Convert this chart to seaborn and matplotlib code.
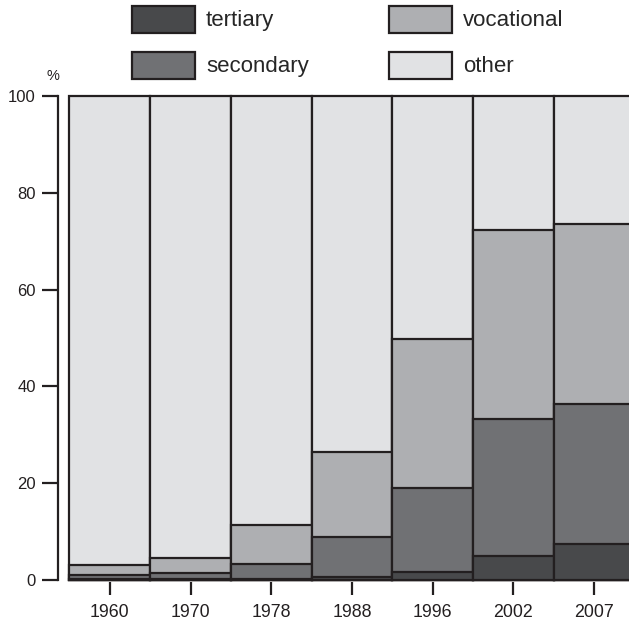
import matplotlib
matplotlib.use("Agg")
import matplotlib.pyplot as plt
import seaborn as sns
import pandas as pd
from matplotlib.patches import Patch

years = ["1960", "1970", "1978", "1988", "1996", "2002", "2007"]
tertiary = [0.3, 0.2, 0.1, 0.7, 1.7, 5.0, 7.4]
secondary = [0.7, 1.2, 3.1, 8.2, 17.4, 28.3, 29.0]
vocational = [2.0, 3.2, 8.1, 17.6, 30.7, 39.0, 37.2]

levels = ["tertiary", "secondary", "vocational", "other"]
colors = {"tertiary": "#48494b", "secondary": "#707174",
          "vocational": "#aeafb2", "other": "#e1e2e4"}
edge = "#231f20"

df = pd.DataFrame({"year": years, "tertiary": tertiary,
                   "secondary": secondary, "vocational": vocational})
df["other"] = 100 - df["tertiary"] - df["secondary"] - df["vocational"]

sns.set_style("ticks")
plt.rcParams["font.family"] = ["Liberation Sans", "DejaVu Sans"]

fig = plt.figure(figsize=(6.29, 6.24), dpi=100)
ax = fig.add_axes([58 / 629, 41.6 / 624, 1 - 58 / 629, 488.8 / 624])

# draw cumulative layers from top down so the lower ones sit on top
cum = df[levels].cumsum(axis=1)
for lvl in reversed(levels):
    sns.barplot(x=df["year"], y=cum[lvl], color=colors[lvl], saturation=1,
                width=1, edgecolor=edge, linewidth=1.6, ax=ax, zorder=2)

ax.set_xlim(-0.6425, 6.433)
ax.set_ylim(-0.5, 100.5)
ax.set_yticks([0, 20, 40, 60, 80, 100])
ax.set_xlabel("")
ax.set_ylabel("")
for s in ["top", "right", "bottom"]:
    ax.spines[s].set_visible(False)
ax.spines["left"].set_bounds(0, 100)
ax.spines["left"].set_linewidth(1.6)
ax.spines["left"].set_color(edge)
ax.tick_params(axis="y", length=11.5, width=1.6, color=edge, labelsize=12,
               labelcolor=edge, pad=4.5)
ax.tick_params(axis="x", length=9.4, width=1.6, color=edge, labelsize=12.8,
               labelcolor=edge, pad=6)

fig.text(53 / 629, 1 - 76.5 / 624, "%", ha="center", va="center",
         fontsize=10.5, color=edge)

handles = [Patch(facecolor=colors[l], edgecolor=edge, linewidth=1.6) for l in levels]
fig.legend(handles, levels, ncol=2, loc="upper left",
           bbox_to_anchor=(126.2 / 629, 1.0), frameon=False, fontsize=16,
           handlelength=2.84, handleheight=1.5, handletextpad=0.5,
           columnspacing=3.6, labelspacing=0.85, borderaxespad=0,
           borderpad=0.25)

fig.savefig("out.png", dpi=100)
